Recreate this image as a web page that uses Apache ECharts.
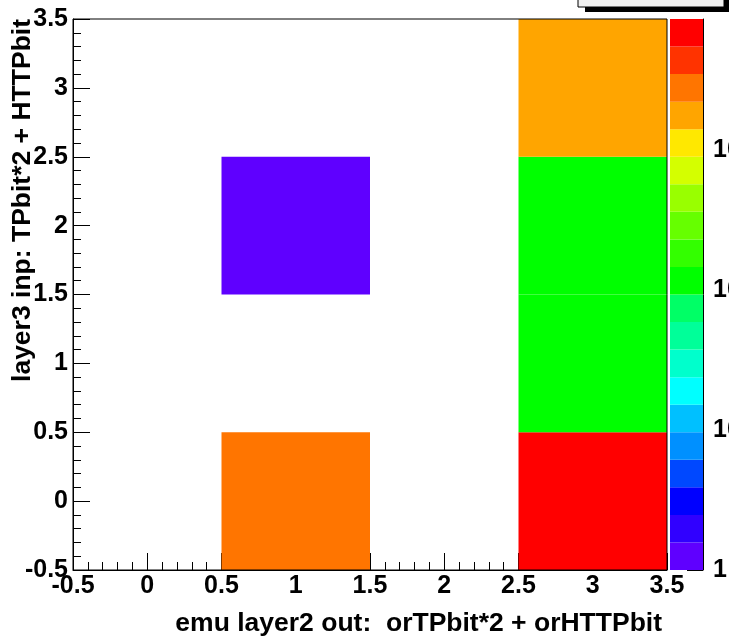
<!DOCTYPE html>
<html>
<head>
<meta charset="utf-8">
<script src="https://cdn.jsdelivr.net/npm/echarts@6/dist/echarts.min.js"></script>
<style>html,body{margin:0;padding:0;background:#fff}#c{width:729px;height:638px}</style>
</head>
<body>
<div id="c"></div>
<script>
// ---- data ----
const xBins = [1, 1, 3, 3, 3, 3];
const yBins = [0, 2, 0, 1, 2, 3];
const counts = [2800, 1, 7000, 120, 120, 1800];
const zMin = 1;
const zMax = 8700;
const zMajorExponents = [0, 1, 2, 3];
const zMinorMultipliers = [2, 3, 4, 5, 6, 7, 8, 9];
const paletteColors = ['#5f00ff','#3000ff','#0000ff','#0048ff','#0090ff','#00c0ff','#00ffff','#00ffcc','#00ff99','#00ff66',
                       '#00ff00','#33ff00','#66ff00','#99ff00','#d4ff00','#ffe800','#ffa500','#ff7500','#ff3300','#ff0000'];
const xTitle = 'emu layer2 out:  orTPbit*2 + orHTTPbit';
const yTitle = 'layer3 inp: TPbit*2 + HTTPbit';

const FONT = '"Liberation Sans", Arial, sans-serif';
const logMax = Math.log10(zMax);
const nb = paletteColors.length;
const pieces = paletteColors.map((c, i) => ({
  gte: i * logMax / nb, lt: (i + 1) * logMax / nb + (i === nb - 1 ? 1 : 0), color: c
}));
const cellData = xBins.map((x, i) => [x, yBins[i], Math.log10(counts[i]), counts[i]]);
const paletteData = paletteColors.map((c, i) => [i]);
const minorValues = [];
zMajorExponents.forEach(e => zMinorMultipliers.forEach(m => {
  const v = Math.log10(m * Math.pow(10, e));
  if (v <= logMax) minorValues.push(v);
}));

const chart = echarts.init(document.getElementById('c'), null, {renderer: 'canvas'});
const labelStyle = {color: '#000', fontFamily: FONT, fontWeight: 'bold', fontSize: 25};

chart.setOption({
  animation: false,
  backgroundColor: '#fff',
  grid: [
    {left: 73, right: 62, top: 19, bottom: 68, show: true, z: 10, borderColor: '#000', borderWidth: 1, backgroundColor: 'transparent', containLabel: false, outerBoundsMode: 'none'},
    {left: 670, right: 26, top: 19, bottom: 68, containLabel: false, outerBoundsMode: 'none'},
    {left: 670, right: 26, top: 19, bottom: 68, containLabel: false, outerBoundsMode: 'none'}
  ],
  xAxis: [
    {
      type: 'value', gridIndex: 0, min: -0.5, max: 3.5, interval: 0.5,
      axisLine: {show: true, onZero: false, lineStyle: {color: '#000', width: 1}},
      axisTick: {show: true, inside: true, length: 17, lineStyle: {color: '#000', width: 1}},
      minorTick: {show: true, splitNumber: 5, length: 8, lineStyle: {color: '#000', width: 1}},
      splitLine: {show: false},
      axisLabel: Object.assign({margin: 4, showMinLabel: true, showMaxLabel: true}, labelStyle),
      name: xTitle, nameLocation: 'end', nameGap: -5,
      nameTextStyle: {color: '#000', fontFamily: FONT, fontWeight: 'bold', fontSize: 26.5, align: 'right', verticalAlign: 'top', padding: [40, 0, 0, 0]}
    },
    {type: 'value', gridIndex: 1, min: 0, max: 1, show: false},
    {type: 'value', gridIndex: 2, min: 0, max: 1, show: false}
  ],
  yAxis: [
    {
      type: 'value', gridIndex: 0, min: -0.5, max: 3.5, interval: 0.5,
      axisLine: {show: true, onZero: false, lineStyle: {color: '#000', width: 1}},
      axisTick: {show: true, inside: true, length: 17, lineStyle: {color: '#000', width: 1}},
      minorTick: {show: true, splitNumber: 5, length: 8, lineStyle: {color: '#000', width: 1}},
      splitLine: {show: false},
      axisLabel: Object.assign({margin: 5, showMinLabel: true, showMaxLabel: true}, labelStyle)
    },
    {
      type: 'value', gridIndex: 1, min: 0, max: logMax, position: 'right',
      axisLine: {show: true, onZero: false, lineStyle: {color: '#000', width: 1}},
      axisTick: {show: true, inside: true, length: 16, customValues: zMajorExponents, lineStyle: {color: '#000', width: 1}},
      splitLine: {show: false},
      axisLabel: Object.assign({
        margin: 10, customValues: zMajorExponents,
        formatter: v => v === 0 ? '1' : '{b|10}{s|' + v + '}',
        rich: {
          b: {fontFamily: FONT, fontWeight: 'bold', fontSize: 25, color: '#000'},
          s: {fontFamily: FONT, fontWeight: 'bold', fontSize: 17, color: '#000', verticalAlign: 'top'}
        }
      }, labelStyle)
    },
    {
      type: 'value', gridIndex: 2, min: 0, max: logMax, position: 'right',
      axisLine: {show: false, onZero: false},
      axisTick: {show: true, inside: true, length: 7, customValues: minorValues, lineStyle: {color: '#000', width: 1}},
      axisLabel: {show: false},
      splitLine: {show: false}
    }
  ],
  visualMap: {
    type: 'piecewise', show: false, dimension: 2, seriesIndex: 0, pieces: pieces
  },
  series: [
    {
      type: 'custom', xAxisIndex: 0, yAxisIndex: 0, data: cellData,
      encode: {x: 0, y: 1},
      renderItem: function (params, api) {
        const x = api.value(0), y = api.value(1);
        const p0 = api.coord([x - 0.5, y + 0.5]);
        const p1 = api.coord([x + 0.5, y - 0.5]);
        return {type: 'rect', shape: {x: p0[0], y: p0[1], width: p1[0] - p0[0], height: p1[1] - p0[1]},
                style: {fill: api.visual('color')}};
      }
    },
    {
      type: 'custom', xAxisIndex: 1, yAxisIndex: 1, data: paletteData,
      encode: {y: 0},
      renderItem: function (params, api) {
        const i = api.value(0);
        const p0 = api.coord([0, (i + 1) * logMax / nb]);
        const p1 = api.coord([1, i * logMax / nb]);
        return {type: 'rect', shape: {x: p0[0], y: p0[1], width: p1[0] - p0[0], height: p1[1] - p0[1]},
                style: {fill: paletteColors[i]}};
      }
    }
  ],
  graphic: [
    {type: 'text', x: 23, y: 19, rotation: Math.PI / 2, z: 50,
     style: {text: yTitle, fill: '#000', font: 'bold 26.5px ' + FONT, align: 'right', verticalAlign: 'middle'}},
    {type: 'rect', shape: {x: 585, y: -5, width: 150, height: 17}, style: {fill: '#000'}, z: 100},
    {type: 'rect', shape: {x: 578, y: -5, width: 146, height: 12}, style: {fill: '#f0f0f0', stroke: '#000', lineWidth: 1}, z: 101}
  ]
});
</script>
</body>
</html>
